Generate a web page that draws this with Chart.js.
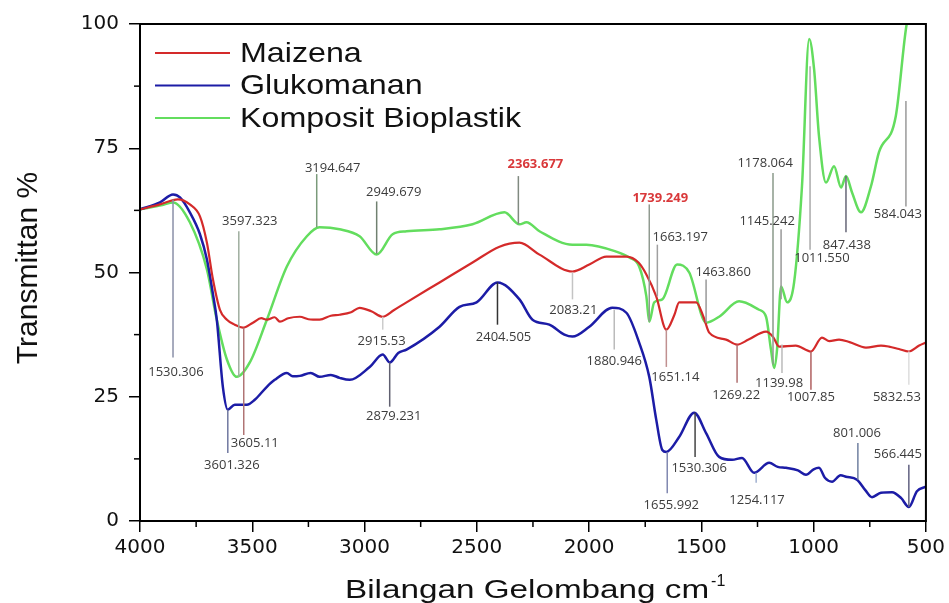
<!DOCTYPE html>
<html>
<head>
<meta charset="utf-8">
<script src="https://cdn.jsdelivr.net/npm/chart.js@4.4.1/dist/chart.umd.min.js"></script>
<style>
html, body { margin: 0; padding: 0; background: #fff; }
#wrap { width: 949px; height: 603px; }
</style>
</head>
<body>
<div id="wrap"><canvas id="graph" width="949" height="603"></canvas></div>
<script>
// wavenumber (cm-1) and transmittance (%)
const maizenaWn = [4000,3911,3831,3778,3733,3702,3675,3644,3613,3578,3542,3497,3460,3435,3400,3377,3340,3288,3250,3200,3150,3111,3060,3022,2970,2919,2870,2813,2666,2519,2399,2310,2221,2074,1999,1923,1834,1780,1745,1701,1656,1620,1599,1523,1490,1465,1390,1341,1290,1212,1180,1154,1080,1012,963,930,887,840,767,700,665,620,576,530,500];
const maizenaT  = [62.7,63.7,64.7,63.7,61.3,56.0,48.6,42.5,40.5,39.5,38.9,39.9,40.8,40.5,41.0,40.1,40.8,41.1,40.6,40.5,41.3,41.5,42.0,42.9,42.2,41.1,42.4,44.0,48.0,52.0,55.2,56.0,53.6,50.2,51.6,53.2,53.2,52.0,49.6,45.2,38.5,41.5,44.0,44.0,41.0,37.9,36.5,35.5,36.5,38.1,37.0,35.1,35.3,34.1,36.9,36.2,36.5,36.0,34.9,35.3,35.1,34.6,34.1,35.3,35.9];

const glukoWn = [4000,3911,3853,3822,3778,3733,3702,3675,3658,3631,3609,3578,3524,3489,3435,3400,3346,3320,3288,3240,3200,3150,3111,3066,2977,2919,2888,2850,2813,2666,2577,2501,2408,2310,2252,2177,2110,2074,1999,1897,1834,1777,1732,1701,1674,1656,1599,1532,1479,1421,1363,1319,1265,1198,1160,1123,1070,1034,1000,976,950,918,880,856,807,770,740,700,651,610,576,540,500];
const glukoT  = [62.7,64.1,65.7,65.1,62.1,57.7,52.6,45.6,40.5,27.0,22.4,23.4,23.4,24.4,27.0,28.4,29.8,29.1,29.2,29.8,29.0,29.4,28.8,28.4,31.0,33.5,31.9,33.8,34.5,39.1,43.1,44.0,48.0,44.6,40.5,39.5,37.5,37.1,39.1,42.9,41.9,35.9,29.0,20.4,14.3,13.9,16.9,21.8,17.7,12.9,12.3,12.7,9.7,11.7,10.9,10.7,10.2,9.3,10.4,10.7,8.7,7.9,9.2,8.9,8.3,6.2,4.8,5.7,5.8,4.6,2.8,6.0,6.9];

const kompositWn = [4000,3900,3853,3778,3702,3658,3613,3569,3511,3435,3346,3257,3200,3111,3022,2946,2875,2813,2666,2519,2377,2310,2279,2221,2074,2012,1879,1821,1777,1745,1732,1710,1674,1608,1554,1479,1421,1332,1243,1212,1190,1176,1163,1145,1118,1087,1052,1020,998,976,945,909,878,856,829,789,745,709,634,589,554,500];
const kompositT  = [62.7,63.6,64.1,60.1,50.6,40.5,32.5,29.0,31.9,40.5,51.2,57.3,59.1,58.7,57.3,53.6,57.7,58.3,58.7,59.7,62.1,59.7,60.1,58.3,55.6,55.6,54.2,53.0,51.2,45.2,40.1,44.0,44.6,51.6,50.0,39.9,41.1,44.2,42.5,41.1,34.5,30.8,34.5,47.2,44.0,48.0,67.3,97.0,90.9,77.4,68.1,71.4,67.1,69.4,66.1,62.1,67.3,74.2,81.5,99.0,107,115];

const seriesNames = ['Maizena', 'Glukomanan', 'Komposit Bioplastik'];
const seriesColors = ['#d42a2a', '#1c1ca6', '#63dd5e'];

const xTicks = [4000, 3500, 3000, 2500, 2000, 1500, 1000, 500];
const xTickLabels = ['4000', '3500', '3000', '2500', '2000', '1500', '1000', '500'];
const yTicks = [0, 25, 50, 75, 100];
const yTickLabels = ['0', '25', '50', '75', '100'];

// peak marks: text, line wavenumber, line top %, line bottom %, label wavenumber, label %, line colour, highlighted
const peaks = [
  ['1530.306', 3853, 64.7, 32.9, 3840, 30.0, '#8a8fa8', false],
  ['3597.323', 3560, 58.3, 29.0, 3511, 60.3, '#9fae9f', false],
  ['3605.11', 3538, 38.9, 17.3, 3489, 15.7, '#b07474', false],
  ['3601.326', 3609, 22.4, 13.7, 3591, 11.3, '#7078a0', false],
  ['3194.647', 3213, 69.8, 59.1, 3142, 71.0, '#7a9a7a', false],
  ['2949.679', 2946, 64.3, 53.8, 2870, 66.1, '#708070', false],
  ['2363.677', 2315, 69.4, 59.7, 2239, 71.8, '#808a80', true],
  ['2083.21', 2074, 50.0, 44.6, 2070, 42.3, '#c4c4c4', false],
  ['2915.53', 2919, 41.1, 38.5, 2924, 36.1, '#cccccc', false],
  ['2879.231', 2888, 31.9, 23.0, 2870, 21.0, '#606070', false],
  ['2404.505', 2408, 48.0, 39.5, 2381, 36.9, '#333333', false],
  ['1880.946', 1888, 42.5, 34.5, 1888, 32.1, '#bbbbbb', false],
  ['1739.249', 1732, 63.7, 40.1, 1683, 64.9, '#909a90', true],
  ['1663.197', 1696, 55.6, 45.2, 1594, 57.1, '#a0a0a0', false],
  ['1651.14', 1656, 38.5, 31.0, 1616, 29.0, '#c09090', false],
  ['1463.860', 1479, 48.6, 39.9, 1403, 50.0, '#999999', false],
  ['1269.22', 1341, 35.5, 27.8, 1345, 25.2, '#b07070', false],
  ['1655.992', 1652, 13.9, 5.6, 1634, 3.2, '#8088b0', false],
  ['1530.306', 1528, 21.8, 12.9, 1510, 10.7, '#444444', false],
  ['1254.117', 1256, 9.7, 7.7, 1252, 4.2, '#a0b0d0', false],
  ['1178.064', 1181, 70.0, 31.5, 1216, 72.0, '#8a9a8a', false],
  ['1145.242', 1145, 58.7, 44.6, 1207, 60.3, '#999999', false],
  ['1139.98', 1141, 35.5, 29.8, 1154, 27.8, '#bbbbbb', false],
  ['1007.85', 1012, 34.1, 26.4, 1012, 24.8, '#b06060', false],
  ['1011.550', 1016, 91.5, 54.6, 963, 52.8, '#aaaaaa', false],
  ['847.438', 856, 69.4, 58.1, 852, 55.4, '#666677', false],
  ['584.043', 589, 84.5, 63.3, 625, 61.7, '#999999', false],
  ['5832.53', 576, 34.1, 27.4, 629, 24.8, '#dddddd', false],
  ['801.006', 803, 15.7, 8.3, 807, 17.7, '#7080a0', false],
  ['566.445', 576, 11.3, 2.8, 625, 13.5, '#606080', false]
];

const xMinor = [3750, 3250, 2750, 2250, 1750, 1250, 750];
const yMinor = [12.5, 37.5, 62.5, 87.5];

function pts(wn, t) {
  return wn.map((w, i) => ({ x: w, y: t[i] }));
}

const decor = {
  id: 'decor',
  afterDatasetsDraw(chart) {
    const { ctx, chartArea: a, scales: { x, y } } = chart;
    ctx.save();
    peaks.forEach(p => {
      const px = x.getPixelForValue(p[1]);
      ctx.strokeStyle = p[6];
      ctx.lineWidth = 1.5;
      ctx.beginPath();
      ctx.moveTo(px, y.getPixelForValue(p[2]));
      ctx.lineTo(px, y.getPixelForValue(p[3]));
      ctx.stroke();
      ctx.font = (p[7] ? 'bold ' : '') + '13px "Open Sans"';
      ctx.fillStyle = p[7] ? '#d9383a' : '#3c3c3c';
      ctx.textAlign = 'center';
      ctx.textBaseline = 'middle';
      ctx.fillText(p[0], x.getPixelForValue(p[4]), y.getPixelForValue(p[5]));
    });

    // frame + minor ticks
    ctx.strokeStyle = '#000';
    ctx.lineWidth = 2;
    ctx.strokeRect(a.left, a.top, a.right - a.left, a.bottom - a.top);
    ctx.lineWidth = 1.5;
    xMinor.forEach(v => {
      const px = x.getPixelForValue(v);
      ctx.beginPath(); ctx.moveTo(px, a.bottom); ctx.lineTo(px, a.bottom + 6); ctx.stroke();
    });
    yMinor.forEach(v => {
      const py = y.getPixelForValue(v);
      ctx.beginPath(); ctx.moveTo(a.left - 6, py); ctx.lineTo(a.left, py); ctx.stroke();
    });

    // legend
    ctx.textAlign = 'left';
    ctx.textBaseline = 'middle';
    chart.data.datasets.forEach((ds, i) => {
      const ly = 53 + i * 32.5;
      ctx.strokeStyle = ds.borderColor;
      ctx.lineWidth = 2;
      ctx.beginPath(); ctx.moveTo(155, ly); ctx.lineTo(230, ly); ctx.stroke();
      ctx.save();
      ctx.translate(240, ly + 1);
      ctx.scale(1.15, 1);
      ctx.font = '28px "Liberation Sans"';
      ctx.fillStyle = '#111';
      ctx.fillText(ds.label, 0, 0);
      ctx.restore();
    });

    // axis titles
    ctx.fillStyle = '#111';
    ctx.save();
    ctx.translate(37, 268);
    ctx.rotate(-Math.PI / 2);
    ctx.font = '30px "Liberation Sans"';
    ctx.textAlign = 'center';
    ctx.textBaseline = 'alphabetic';
    ctx.fillText('Transmittan %', 0, 0);
    ctx.restore();

    ctx.save();
    ctx.font = '25px "Liberation Sans"';
    ctx.textAlign = 'left';
    ctx.textBaseline = 'alphabetic';
    const title = 'Bilangan Gelombang cm';
    const w = ctx.measureText(title).width * 1.33;
    ctx.translate(345, 598);
    ctx.scale(1.33, 1);
    ctx.fillText(title, 0, 0);
    ctx.restore();
    ctx.font = '16px "Liberation Sans"';
    ctx.textAlign = 'left';
    ctx.textBaseline = 'alphabetic';
    ctx.fillText('-1', 345 + w + 2, 586);
    ctx.restore();
  }
};

new Chart(document.getElementById('graph'), {
  type: 'line',
  data: {
    datasets: [
      { label: seriesNames[0], data: pts(maizenaWn, maizenaT), borderColor: seriesColors[0], borderWidth: 2.2 },
      { label: seriesNames[1], data: pts(glukoWn, glukoT), borderColor: seriesColors[1], borderWidth: 2.5 },
      { label: seriesNames[2], data: pts(kompositWn, kompositT), borderColor: seriesColors[2], borderWidth: 2.5 }
    ]
  },
  options: {
    responsive: false,
    animation: false,
    devicePixelRatio: 1,
    layout: { padding: { top: 24, right: 22, left: 0, bottom: 0 } },
    elements: { point: { radius: 0 }, line: { cubicInterpolationMode: 'monotone', fill: false } },
    plugins: { legend: { display: false }, tooltip: { enabled: false } },
    scales: {
      x: {
        type: 'linear',
        reverse: true,
        min: 500,
        max: 4000,
        afterBuildTicks: s => { s.ticks = xTicks.map(v => ({ value: v })); },
        afterFit: s => { s.height = 82; },
        ticks: {
          callback: v => xTickLabels[xTicks.indexOf(v)],
          font: { family: 'DejaVu Sans', size: 20 },
          color: '#111',
          padding: 4,
          maxRotation: 0,
          autoSkip: false
        },
        grid: { drawOnChartArea: false, tickLength: 11, color: '#000', lineWidth: 1.5 },
        border: { color: '#000', width: 2 }
      },
      y: {
        min: 0,
        max: 100,
        afterBuildTicks: s => { s.ticks = yTicks.map(v => ({ value: v })); },
        afterFit: s => { s.width = 140; },
        ticks: {
          callback: v => yTickLabels[yTicks.indexOf(v)],
          font: { family: 'DejaVu Sans', size: 20 },
          color: '#111',
          padding: 10
        },
        grid: { drawOnChartArea: false, tickLength: 11, color: '#000', lineWidth: 1.5 },
        border: { color: '#000', width: 2 }
      }
    }
  },
  plugins: [decor]
});
</script>
</body>
</html>
